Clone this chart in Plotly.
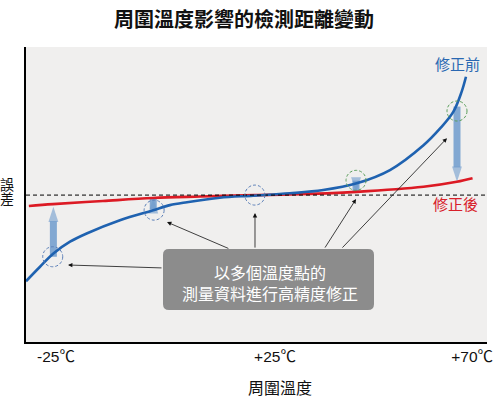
import plotly.graph_objects as go

# ---------------- data ----------------
# ambient temperature (°C) vs. detection-distance error (arbitrary units)
blue_t = [-31.85, -28.65, -25.6, -21.8, -18.0, -10.4, -2.8, 1.0, 4.9, 12.4, 20.0,
          28.4, 36.0, 43.65, 51.25, 58.9, 62.7, 65.7, 67.6, 68.6]
blue_err = [-29.2, -24.3, -19.8, -15.8, -13.0, -8.5, -5.1, -3.4, -2.4, -0.9, -0.2,
            0.6, 1.7, 4.0, 8.5, 16.9, 22.6, 28.2, 35.0, 40.1]
red_t = [-31.2, -25.7, -14.3, -2.85, 7.9, 20.4, 28.4, 43.65, 58.9, 66.5, 70.1]
red_err = [-3.7, -3.05, -2.0, -1.0, -0.5, 0.0, 0.2, 1.1, 2.8, 4.5, 5.7]

# calibration points (circles)
cal_t = [-25.75, -2.6, 20.4, 43.5, 66.55]
cal_err = [-20.9, -5.1, 0.0, 5.0, 28.5]
cal_colors = ["#5b7fb8", "#5b7fb8", "#5b7fb8", "#5a9e5a", "#5a9e5a"]

# correction arrows (from uncorrected to corrected)
corr_t = [-25.6, -2.8, 43.5, 66.55]
corr_from = [-20.9, -4.75, 4.9, 30.0]
corr_to = [-3.95, -1.1, 0.9, 4.5]

# pointer arrows from the note box: tail (t, err) -> head (t, err)
ptr_tail_t = [-0.57, 14.7, 20.43, 36.2, 40.07]
ptr_tail_err = [-24.7, -18.3, -18.3, -18.3, -18.3]
ptr_head_t = [-22.26, 0.34, 20.43, 43.5, 64.27]
ptr_head_err = [-23.7, -9.15, -6.1, -1.36, 19.3]

tick_vals = [-25, 25, 70]
tick_text = ["-25℃", "+25℃", "+70℃"]

title_text = "周圍溫度影響的檢測距離變動"
x_title = "周圍溫度"
y_title = ["誤", "差"]
label_before = "修正前"
label_after = "修正後"
note_text = "以多個溫度點的<br>測量資料進行高精度修正"

# ---------------- layout constants ----------------
W, H = 495, 398
ML, MR, MT, MB = 26, 8, 47, 56
PW, PH = W - ML - MR, H - MT - MB
FONT = "Noto Sans CJK TC, Noto Sans CJK SC, sans-serif"
TICKFONT = "Liberation Sans, Arial, Noto Sans CJK TC, sans-serif"


def px_to_paper(px, py):
    return (px - ML) / PW, (H - MB - py) / PH


fig = go.Figure()

# correction arrows (light blue, thick)
for t, e0, e1 in zip(corr_t, corr_from, corr_to):
    fig.add_trace(go.Scatter(
        x=[t, t], y=[e0, e1], mode="lines+markers",
        line=dict(color="rgba(110,155,205,0.85)", width=7),
        marker=dict(symbol="arrow", size=[0, 16], angleref="previous",
                    color="rgba(110,155,205,0.85)", line=dict(width=0)),
        hoverinfo="skip", showlegend=False, cliponaxis=False))

# corrected (red) and uncorrected (blue) curves
fig.add_trace(go.Scatter(x=red_t, y=red_err, mode="lines",
                         line=dict(color="#dc1a24", width=2.6, shape="spline", smoothing=1.0),
                         hoverinfo="skip", showlegend=False))
fig.add_trace(go.Scatter(x=blue_t, y=blue_err, mode="lines",
                         line=dict(color="#1f62b0", width=2.6, shape="spline", smoothing=1.0),
                         hoverinfo="skip", showlegend=False))

shapes = []
# zero reference dashed line
shapes.append(dict(type="line", xref="paper", yref="y", x0=0, x1=1, y0=0, y1=0,
                   line=dict(color="black", width=1, dash="4px,3px"), layer="above"))
# dashed circles at calibration points
for t, e, c in zip(cal_t, cal_err, cal_colors):
    shapes.append(dict(type="circle", xref="x", yref="y", xsizemode="pixel", ysizemode="pixel",
                       xanchor=t, yanchor=e, x0=-10, x1=10, y0=-10, y1=10,
                       line=dict(color=c, width=1, dash="3px,2px"), layer="above"))

# rounded note box
bx0, bx1, by0, by1, r = 163, 374, 249, 310, 6
def P(px, py):
    fx, fy = px_to_paper(px, py)
    return f"{fx:.5f},{fy:.5f}"
path = (f"M{P(bx0 + r, by0)} L{P(bx1 - r, by0)} Q{P(bx1, by0)} {P(bx1, by0 + r)} "
        f"L{P(bx1, by1 - r)} Q{P(bx1, by1)} {P(bx1 - r, by1)} "
        f"L{P(bx0 + r, by1)} Q{P(bx0, by1)} {P(bx0, by1 - r)} "
        f"L{P(bx0, by0 + r)} Q{P(bx0, by0)} {P(bx0 + r, by0)} Z")
shapes.append(dict(type="path", xref="paper", yref="paper", path=path,
                   fillcolor="#8c8c8c", line=dict(width=0), layer="above"))

annotations = []
# pointer arrows
for tt, te, ht, he in zip(ptr_tail_t, ptr_tail_err, ptr_head_t, ptr_head_err):
    annotations.append(dict(x=ht, y=he, ax=tt, ay=te, xref="x", yref="y", axref="x", ayref="y",
                            text="", showarrow=True, arrowhead=2, arrowsize=1.1,
                            arrowwidth=0.8, arrowcolor="#111"))

# note text
nx, ny = px_to_paper((bx0 + bx1) / 2 + 1, 282.5)
annotations.append(dict(x=nx, y=ny, xref="paper", yref="paper", text=note_text,
                        showarrow=False, font=dict(family=FONT, size=16, color="white"),
                        xanchor="center", yanchor="middle"))

# curve labels
lx, ly = px_to_paper(457, 64)
annotations.append(dict(x=lx, y=ly, xref="paper", yref="paper", text=label_before,
                        showarrow=False, font=dict(family=FONT, size=15, color="#2a68b2"),
                        xanchor="center", yanchor="middle"))
lx, ly = px_to_paper(455, 203)
annotations.append(dict(x=lx, y=ly, xref="paper", yref="paper", text=label_after,
                        showarrow=False, font=dict(family=FONT, size=15, color="#d8202a"),
                        xanchor="center", yanchor="middle"))

# y-axis label (stacked characters)
for ch, py in zip(y_title, [184, 198]):
    fx, fy = px_to_paper(7, py)
    annotations.append(dict(x=fx, y=fy, xref="paper", yref="paper", text=ch,
                            showarrow=False, font=dict(family=FONT, size=14, color="#111"),
                            xanchor="center", yanchor="middle"))

# x-axis title
fx, fy = px_to_paper(280, 386.5)
annotations.append(dict(x=fx, y=fy, xref="paper", yref="paper", text=x_title,
                        showarrow=False, font=dict(family=FONT, size=16, color="#111"),
                        xanchor="center", yanchor="middle"))

fig.update_layout(
    width=W, height=H, autosize=False,
    margin=dict(l=ML, r=MR, t=MT, b=MB, autoexpand=False),
    paper_bgcolor="white", plot_bgcolor="#f0efee",
    title=dict(text=title_text, x=244 / W, xanchor="center", y=1 - 20 / H, yanchor="middle",
               font=dict(family=FONT, size=20, color="#111", weight="bold")),
    shapes=shapes, annotations=annotations,
    xaxis=dict(range=[-31.85, 73.4], showgrid=False, zeroline=False, automargin=False,
               showline=True, linecolor="black", linewidth=1.5,
               tickvals=tick_vals, ticktext=tick_text, ticks="",
               tickfont=dict(family=TICKFONT, size=15.5, color="#111")),
    yaxis=dict(range=[-49.8, 50.2], showgrid=False, zeroline=False, automargin=False,
               showline=True, linecolor="black", linewidth=1.5,
               showticklabels=False, ticks=""),
    font=dict(family=FONT),
)

fig.write_html("out.html", config={"displayModeBar": False},
               post_script="document.body.style.margin='0';document.body.style.overflow='hidden';")
